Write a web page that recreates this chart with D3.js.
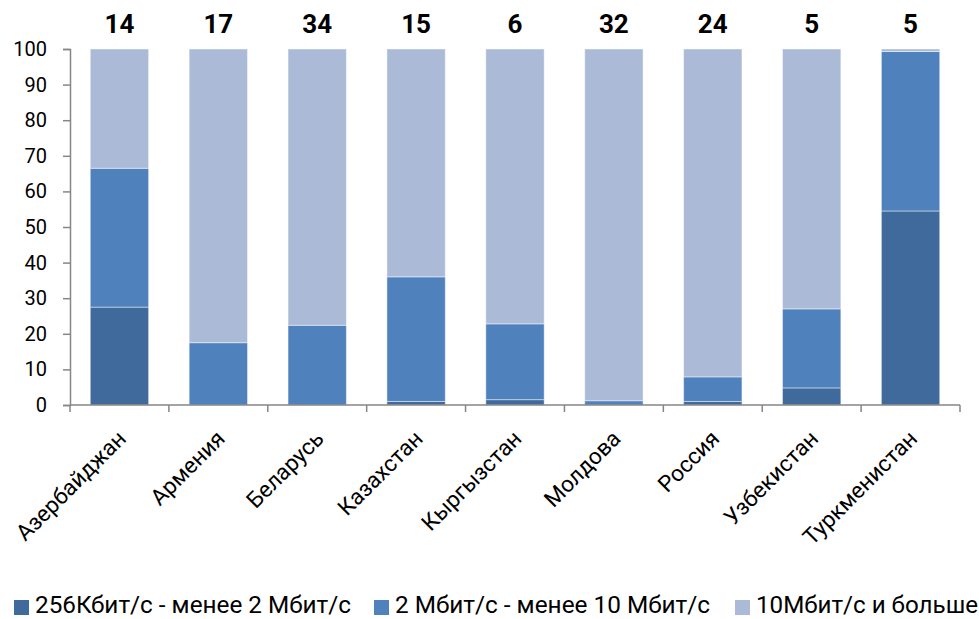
<!DOCTYPE html>
<html>
<head>
<meta charset="utf-8">
<script src="https://cdnjs.cloudflare.com/ajax/libs/d3/7.8.5/d3.min.js"></script>
<style>
  body { margin: 0; background: #fff; }
  text { font-family: Roboto, "Open Sans", sans-serif; }
</style>
</head>
<body>
<div id="chart"></div>
<script>
// Data
const countries = ['Азербайджан', 'Армения', 'Беларусь', 'Казахстан', 'Кыргызстан', 'Молдова', 'Россия', 'Узбекистан', 'Туркменистан'];
const topLabels = [14, 17, 34, 15, 6, 32, 24, 5, 5];
const seriesNames = ['256Кбит/с - менее 2 Мбит/с', '2 Мбит/с - менее 10 Мбит/с', '10Мбит/с и больше'];
const slow = [27.5, 0, 0, 1, 1.5, 0, 1, 4.8, 54.5];
const medium = [39, 17.5, 22.4, 35, 21.3, 1.2, 6.9, 22.2, 44.8];
const fast = [33.5, 82.5, 77.6, 64, 77.2, 98.8, 92.1, 73, 0.7];
const yTicks = [0, 10, 20, 30, 40, 50, 60, 70, 80, 90, 100];
const colors = ['#3F6A9B', '#4F81BD', '#AABAD7'];

const W = 979, H = 619;
const margin = { top: 49, right: 19, bottom: 214, left: 70 };
const width = W - margin.left - margin.right;
const height = H - margin.top - margin.bottom;

const svg = d3.select('#chart')
    .append('svg')
    .attr('width', W)
    .attr('height', H)
    .append('g')
    .attr('transform', `translate(${margin.left},${margin.top})`);

const x = d3.scaleBand()
    .domain(countries)
    .range([0, width])
    .paddingInner(0.41)
    .paddingOuter(0.205);

const y = d3.scaleLinear()
    .domain([0, 100])
    .range([height, 0]);

// Stack the series
const rows = countries.map((c, i) => ({ country: c, s0: slow[i], s1: medium[i], s2: fast[i] }));
const stacked = d3.stack().keys(['s0', 's1', 's2'])(rows);

svg.selectAll('.layer')
    .data(stacked)
    .enter()
    .append('g')
    .attr('class', 'layer')
    .attr('fill', (d, i) => colors[i])
    .selectAll('rect')
    .data(d => d.filter(p => p[1] - p[0] > 0))
    .enter()
    .append('rect')
    .attr('x', d => x(d.data.country))
    .attr('y', d => y(d[1]))
    .attr('width', x.bandwidth())
    .attr('height', d => y(d[0]) - y(d[1]))
    .attr('stroke', 'rgba(255,255,255,0.45)')
    .attr('stroke-width', 1);

// Y axis
const yAxis = svg.append('g')
    .call(d3.axisLeft(y).tickValues(yTicks).tickSize(7).tickPadding(16));
yAxis.select('.domain').attr('stroke', '#868686').attr('stroke-width', 1.5);
yAxis.selectAll('.tick line').attr('stroke', '#868686').attr('stroke-width', 1.5);
yAxis.selectAll('.tick text')
    .style('font-size', '20px')
    .style('font-family', 'Roboto, "Open Sans", sans-serif')
    .attr('fill', '#000');

// X axis
const step = x.step();
const xBase = svg.append('g').attr('transform', `translate(0,${height})`);
xBase.append('line')
    .attr('x1', 0).attr('x2', width)
    .attr('y1', 0).attr('y2', 0)
    .attr('stroke', '#868686').attr('stroke-width', 1.5);
xBase.selectAll('.xtick')
    .data(d3.range(countries.length + 1))
    .enter()
    .append('line')
    .attr('x1', i => i * step).attr('x2', i => i * step)
    .attr('y1', 0).attr('y2', 7)
    .attr('stroke', '#868686').attr('stroke-width', 1.5);

xBase.selectAll('.xlabel')
    .data(countries)
    .enter()
    .append('text')
    .attr('transform', d => `translate(${x(d) + x.bandwidth() / 2 + 8},${35}) rotate(-45)`)
    .attr('text-anchor', 'end')
    .style('font-size', '22.5px')
    .attr('fill', '#000')
    .text(d => d);

// Top labels
svg.selectAll('.top-label')
    .data(countries)
    .enter()
    .append('text')
    .attr('x', d => x(d) + x.bandwidth() / 2)
    .attr('y', -16)
    .attr('text-anchor', 'middle')
    .style('font-size', '26px')
    .style('font-weight', 'bold')
    .attr('fill', '#000')
    .text((d, i) => topLabels[i]);

// Legend
const legend = d3.select('svg').append('g').attr('transform', 'translate(0,613)');
const legendX = [14, 374, 735];
const legendW = [316, 315, 222];
seriesNames.forEach((name, i) => {
    legend.append('rect')
        .attr('x', legendX[i]).attr('y', -13)
        .attr('width', 15).attr('height', 15)
        .attr('fill', colors[i]);
    legend.append('text')
        .attr('x', legendX[i] + 21).attr('y', 0)
        .attr('textLength', legendW[i])
        .attr('lengthAdjust', 'spacingAndGlyphs')
        .style('font-size', '24px')
        .attr('fill', '#000')
        .text(name);
});
</script>
</body>
</html>
